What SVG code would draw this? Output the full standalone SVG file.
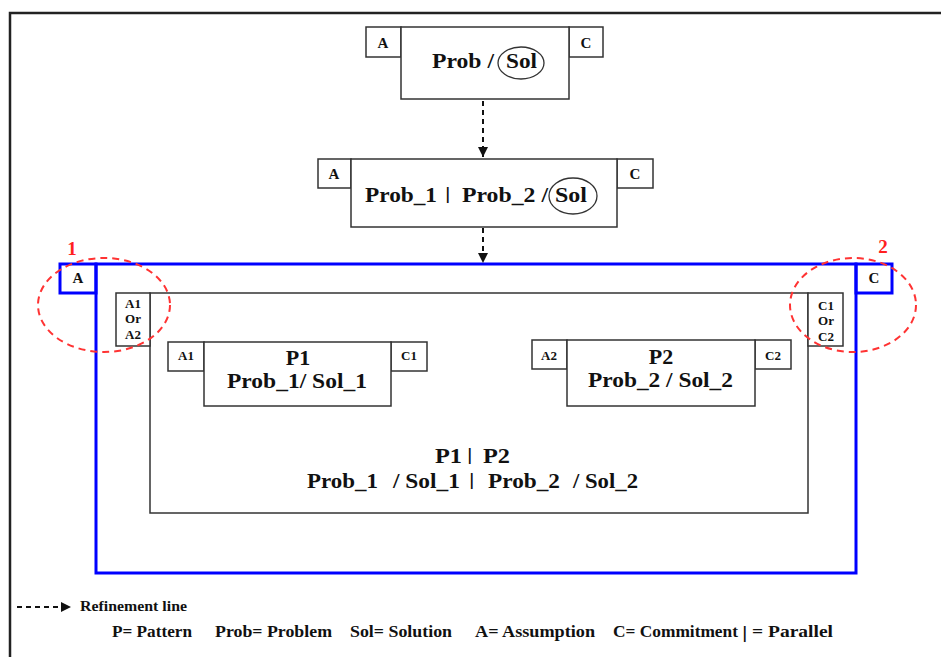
<svg xmlns="http://www.w3.org/2000/svg" width="941" height="657" viewBox="0 0 941 657">
  <defs>
    <style>
      .frame { fill: none; stroke: #222; stroke-width: 2.5; }
      .box { fill: #fff; stroke: #333; stroke-width: 1.5; }
      .blue { fill: none; stroke: #0000ff; stroke-width: 3; }
      .oval { fill: none; stroke: #333; stroke-width: 1.3; }
      .callout { fill: none; stroke: #ff3333; stroke-width: 2; stroke-dasharray: 7 5; }
      .refine { fill: none; stroke: #111; stroke-width: 2; stroke-dasharray: 5 4; }
      .t { font-family: 'Liberation Serif', 'DejaVu Serif', serif; font-weight: 700; fill: #111; }
      .big { font-size: 22px; }
      .small { font-size: 13px; }
      .corner { font-size: 15px; }
      .legend { font-size: 17px; }
      .bar { font-family: 'DejaVu Sans', sans-serif; font-weight: 700; font-size: 15px; fill: #111; }
      .red { font-family: 'Liberation Serif', 'DejaVu Serif', serif; font-weight: 700; font-size: 19px; fill: #ff2020; }
      .c { text-anchor: middle; }
    </style>
    <marker id="head" viewBox="0 0 10 10" refX="10" refY="5" markerWidth="10" markerHeight="10" markerUnits="userSpaceOnUse" orient="auto">
      <path d="M0,0 L10,5 L0,10 z" fill="#111"/>
    </marker>
  </defs>

  <rect width="941" height="657" fill="#fff"/>
  <!-- page border (top and left edges) -->
  <path class="frame" d="M10,657 V13 H941"/>

  <!-- top pattern: Prob / Sol -->
  <g id="pattern-top">
    <rect class="box" x="366" y="27" width="35" height="30"/>
    <rect class="box" x="569" y="27" width="34" height="30"/>
    <rect class="box" x="401" y="27" width="168" height="72"/>
    <text class="t corner c" x="383" y="48">A</text>
    <text class="t corner c" x="586" y="48">C</text>
    <text class="t big" x="432" y="68" textLength="62" lengthAdjust="spacingAndGlyphs">Prob /</text>
    <text class="t big" x="506" y="68" textLength="31" lengthAdjust="spacingAndGlyphs">Sol</text>
    <ellipse class="oval" cx="521" cy="63" rx="23" ry="16"/>
  </g>

  <!-- refined pattern: Prob_1 | Prob_2 / Sol -->
  <g id="pattern-refined">
    <rect class="box" x="318" y="159" width="33" height="29"/>
    <rect class="box" x="617" y="159" width="36" height="29"/>
    <rect class="box" x="351" y="159" width="266" height="68"/>
    <text class="t corner c" x="334" y="179">A</text>
    <text class="t corner c" x="635" y="179">C</text>
    <text class="t big" x="365" y="202" textLength="72" lengthAdjust="spacingAndGlyphs">Prob_1</text>
    <text class="bar" x="445" y="199">|</text>
    <text class="t big" x="462" y="202" textLength="86" lengthAdjust="spacingAndGlyphs">Prob_2 /</text>
    <text class="t big" x="555" y="202" textLength="32" lengthAdjust="spacingAndGlyphs">Sol</text>
    <ellipse class="oval" cx="573" cy="196" rx="24" ry="18"/>
  </g>

  <!-- composite pattern -->
  <g id="composite">
    <rect class="blue" x="96" y="264" width="760" height="309"/>
    <rect class="blue" x="60" y="264" width="36" height="29"/>
    <rect class="blue" x="856" y="264" width="36" height="29"/>
    <text class="t corner c" x="78" y="283">A</text>
    <text class="t corner c" x="874" y="283">C</text>

    <rect class="box" x="150" y="293" width="658" height="220"/>
    <rect class="box" x="116" y="293" width="34" height="53"/>
    <rect class="box" x="808" y="293" width="35" height="53"/>
    <text class="t small c" x="133" y="308">A1</text>
    <text class="t small c" x="133" y="323">Or</text>
    <text class="t small c" x="133" y="339">A2</text>
    <text class="t small c" x="826" y="310">C1</text>
    <text class="t small c" x="826" y="325">Or</text>
    <text class="t small c" x="826" y="341">C2</text>

    <text class="t big" x="435" y="463" textLength="27" lengthAdjust="spacingAndGlyphs">P1</text>
    <text class="bar" x="467" y="460">|</text>
    <text class="t big" x="483" y="463" textLength="27" lengthAdjust="spacingAndGlyphs">P2</text>
    <text class="t big" x="307" y="488" textLength="71" lengthAdjust="spacingAndGlyphs">Prob_1</text>
    <text class="t big" x="393" y="488" textLength="67" lengthAdjust="spacingAndGlyphs">/ Sol_1</text>
    <text class="bar" x="469" y="485">|</text>
    <text class="t big" x="488" y="488" textLength="72" lengthAdjust="spacingAndGlyphs">Prob_2</text>
    <text class="t big" x="573" y="488" textLength="65" lengthAdjust="spacingAndGlyphs">/ Sol_2</text>
  </g>

  <g id="pattern-p1">
    <rect class="box" x="168" y="342" width="36" height="29"/>
    <rect class="box" x="391" y="342" width="36" height="29"/>
    <rect class="box" x="204" y="342" width="187" height="64"/>
    <text class="t small c" x="186" y="360">A1</text>
    <text class="t small c" x="409" y="360">C1</text>
    <text class="t big c" x="298" y="365">P1</text>
    <text class="t big" x="227" y="388" textLength="140" lengthAdjust="spacingAndGlyphs">Prob_1/ Sol_1</text>
  </g>

  <g id="pattern-p2">
    <rect class="box" x="532" y="340" width="35" height="29"/>
    <rect class="box" x="755" y="340" width="36" height="29"/>
    <rect class="box" x="567" y="340" width="188" height="66"/>
    <text class="t small c" x="549" y="360">A2</text>
    <text class="t small c" x="773" y="360">C2</text>
    <text class="t big c" x="661" y="364">P2</text>
    <text class="t big" x="588" y="387" textLength="145" lengthAdjust="spacingAndGlyphs">Prob_2 / Sol_2</text>
  </g>

  <!-- highlighted assumption / commitment corners -->
  <g id="callout-1">
    <ellipse class="callout" cx="104" cy="305" rx="66" ry="47"/>
    <text class="red c" x="72" y="255">1</text>
  </g>
  <g id="callout-2">
    <ellipse class="callout" cx="853" cy="305" rx="63" ry="47"/>
    <text class="red c" x="883" y="253">2</text>
  </g>

  <!-- refinement connectors -->
  <g id="connectors">
    <line class="refine" x1="483" y1="101" x2="483" y2="157" marker-end="url(#head)"/>
    <line class="refine" x1="483" y1="228" x2="483" y2="263" marker-end="url(#head)"/>
  </g>

  <!-- legend -->
  <g id="legend">
    <line class="refine" x1="17" y1="607" x2="71" y2="607" marker-end="url(#head)"/>
    <text class="t" x="80" y="611" font-size="15" textLength="107" lengthAdjust="spacingAndGlyphs">Refinement line</text>
    <text class="t legend" x="112" y="637" textLength="80" lengthAdjust="spacingAndGlyphs">P= Pattern</text>
    <text class="t legend" x="215" y="637" textLength="117" lengthAdjust="spacingAndGlyphs">Prob= Problem</text>
    <text class="t legend" x="350" y="637" textLength="102" lengthAdjust="spacingAndGlyphs">Sol= Solution</text>
    <text class="t legend" x="475" y="637" textLength="120" lengthAdjust="spacingAndGlyphs">A= Assumption</text>
    <text class="t legend" x="613" y="637" textLength="125" lengthAdjust="spacingAndGlyphs">C= Commitment</text>
    <text class="bar" x="742" y="638">|</text>
    <text class="t legend" x="752" y="637" textLength="81" lengthAdjust="spacingAndGlyphs">= Parallel</text>
  </g>
</svg>
